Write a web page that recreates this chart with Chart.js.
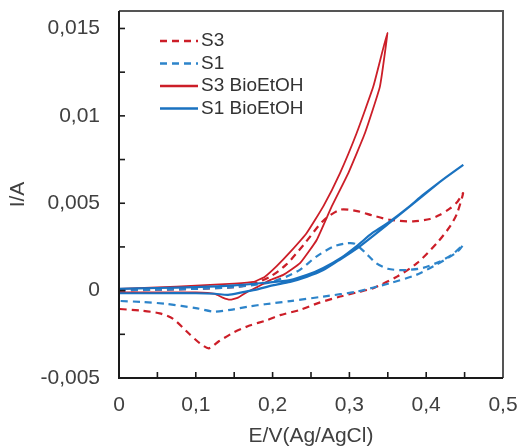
<!DOCTYPE html>
<html>
<head>
<meta charset="utf-8">
<script src="https://cdn.jsdelivr.net/npm/chart.js@4"></script>
<style>
  html, body { margin: 0; padding: 0; background: #fff; }
  #cv { display: block; }
</style>
</head>
<body>
<canvas id="cv" width="520" height="447"></canvas>
<script>
// Each loop is listed in scan order: potential E (V vs Ag/AgCl), current I (A)
const s3E = [0, 0.05, 0.1, 0.15, 0.175, 0.197, 0.218, 0.24, 0.266, 0.288, 0.31, 0.33, 0.353, 0.383, 0.405, 0.418, 0.431, 0.441, 0.448,
             0.44, 0.431, 0.414, 0.388, 0.362, 0.331, 0.31, 0.288, 0.26, 0.236, 0.21, 0.192, 0.17, 0.149, 0.13, 0.117, 0.105, 0.092, 0.07, 0.053, 0.03, 0];
const s3I = [0, 0.00005, 0.0001, 0.0002, 0.0004, 0.0008, 0.0015, 0.0026, 0.0040, 0.00463, 0.00455, 0.0043, 0.00405, 0.00396, 0.0041, 0.00434, 0.0047, 0.0051, 0.00558,
             0.0044, 0.00367, 0.00272, 0.00157, 0.0008, 0.00014, -0.0001, -0.00034, -0.0007, -0.0011, -0.0014, -0.0017, -0.002, -0.0024, -0.0029, -0.0033, -0.003, -0.0025, -0.0016, -0.0013, -0.00115, -0.00105];

const s1E = [0, 0.05, 0.1, 0.15, 0.192, 0.218, 0.236, 0.257, 0.279, 0.295, 0.307, 0.32, 0.335, 0.35, 0.366, 0.38, 0.396, 0.418, 0.435, 0.448,
             0.44, 0.413, 0.387, 0.353, 0.31, 0.266, 0.223, 0.19, 0.17, 0.145, 0.123, 0.1, 0.062, 0.03, 0];
const s1I = [0.00003, 0.00005, 0.0001, 0.0002, 0.00043, 0.0008, 0.0012, 0.00195, 0.00252, 0.0027, 0.00268, 0.0022, 0.00157, 0.00125, 0.00117, 0.0012, 0.0013, 0.00167, 0.0021, 0.00262,
             0.0022, 0.00148, 0.0009, 0.00043, -0.00005, -0.00034, -0.0006, -0.00078, -0.0009, -0.0011, -0.0012, -0.001, -0.00076, -0.00065, -0.00059];

const s3bE = [0, 0.05, 0.1, 0.15, 0.175, 0.19, 0.2053, 0.2227, 0.2444, 0.266, 0.2878, 0.3095, 0.3312, 0.3494,
              0.3398, 0.3203, 0.2986, 0.277, 0.2574, 0.2357, 0.2139, 0.1966, 0.18, 0.168, 0.155, 0.1445, 0.135, 0.125, 0.1, 0.05, 0];
const s3bI = [0.0001, 0.00018, 0.00028, 0.0004, 0.0005, 0.0008, 0.0014, 0.0022, 0.0033, 0.00482, 0.00673, 0.00902, 0.01169, 0.01475,
              0.01169, 0.00902, 0.00673, 0.00482, 0.0029, 0.00157, 0.0009, 0.0006, 0.0002, -0.00005, -0.0004, -0.00052, -0.0004, -0.00018, -0.0001, -0.0001, -0.0001];

const s1bE = [0, 0.05, 0.1, 0.15, 0.19, 0.2227, 0.245, 0.266, 0.29, 0.3095, 0.33, 0.3529, 0.375, 0.3963, 0.42, 0.4483,
              0.42, 0.3963, 0.3529, 0.3095, 0.285, 0.266, 0.245, 0.2227, 0.2, 0.177, 0.16, 0.142, 0.125, 0.1, 0.05, 0];
const s1bI = [0.0001, 0.00015, 0.0002, 0.0003, 0.00045, 0.0006, 0.0009, 0.0013, 0.0019, 0.00255, 0.0033, 0.00396, 0.0047, 0.00549, 0.0063, 0.0072,
              0.0063, 0.00545, 0.0039, 0.0024, 0.0017, 0.00118, 0.0008, 0.0005, 0.0003, 0.00004, -0.0001, -0.00024, -0.00018, -0.00015, -0.00015, -0.00015];

const xTickValues = [0, 0.1, 0.2, 0.3, 0.4, 0.5];
const xTickLabels = ['0', '0,1', '0,2', '0,3', '0,4', '0,5'];
const yTickValues = [-0.005, 0, 0.005, 0.01, 0.015];
const yTickLabels = ['-0,005', '0', '0,005', '0,01', '0,015'];

const RED = 'rgb(204, 30, 40)';
const BLUE = 'rgb(26, 114, 192)';
const BLUE_DASH = 'rgb(45, 132, 202)';
const FONT = 'Liberation Sans, Arial, sans-serif';

const toPoints = (E, I) => E.map((e, k) => ({ x: e, y: I[k] }));

function labelFor(values, labels) {
    return function (value) {
        const k = values.findIndex(v => Math.abs(v - value) < 1e-9);
        return k >= 0 ? labels[k] : '';
    };
}

function onStep(v, step) {
    const r = v / step;
    return Math.abs(r - Math.round(r)) < 1e-6;
}

// fixed axis sizes, no extra room asked for the edge labels
function fixSize(w, h) {
    return s => {
        if (w) s.width = w;
        if (h) s.height = h;
        s.paddingTop = s.paddingBottom = s.paddingLeft = s.paddingRight = 0;
    };
}

/// Box frame, inward tick marks and the legend inside the plot
const framePlugin = {
    id: 'frame',
    afterDraw(chart) {
        const { ctx, chartArea: a, scales: { x, y } } = chart;
        ctx.save();
        ctx.lineWidth = 2;
        ctx.strokeStyle = '#555';
        ctx.beginPath();
        ctx.moveTo(a.left, a.top);
        ctx.lineTo(a.right, a.top);
        ctx.lineTo(a.right, a.bottom);
        ctx.stroke();
        ctx.strokeStyle = '#1a1a1a';
        ctx.beginPath();
        ctx.moveTo(a.left, a.top);
        ctx.lineTo(a.left, a.bottom);
        ctx.lineTo(a.right, a.bottom);
        ctx.stroke();

        ctx.lineWidth = 1.6;
        x.ticks.forEach(t => {
            if (!onStep(t.value, 0.05) || t.value <= 0 || t.value >= 0.5) return;
            const px = x.getPixelForValue(t.value);
            ctx.beginPath();
            ctx.moveTo(px, a.bottom);
            ctx.lineTo(px, a.bottom - 6);
            ctx.stroke();
        });
        y.ticks.forEach(t => {
            if (!onStep(t.value, 0.0025) || t.value <= -0.005) return;
            const py = y.getPixelForValue(t.value);
            ctx.beginPath();
            ctx.moveTo(a.left, py);
            ctx.lineTo(a.left + 6, py);
            ctx.stroke();
        });

        // legend
        ctx.font = '19px ' + FONT;
        ctx.textBaseline = 'middle';
        ctx.textAlign = 'left';
        chart.data.datasets.forEach((ds, k) => {
            const ly = 41 + k * 22.5;
            ctx.strokeStyle = ds.borderColor;
            ctx.lineWidth = 2.4;
            ctx.setLineDash(ds.borderDash || []);
            ctx.beginPath();
            ctx.moveTo(160, ly);
            ctx.lineTo(198, ly);
            ctx.stroke();
            ctx.setLineDash([]);
            ctx.fillStyle = '#333';
            ctx.fillText(ds.label, 201, ly);
        });
        ctx.restore();
    }
};

const cvChart = new Chart('cv', {
    type: 'scatter',
    data: {
        datasets: [
            {
                label: 'S3',
                data: toPoints(s3E, s3I),
                borderColor: RED,
                borderDash: [7, 5],
                borderWidth: 2.2,
                showLine: true,
                order: 4
            },
            {
                label: 'S1',
                data: toPoints(s1E, s1I),
                borderColor: BLUE_DASH,
                borderDash: [7, 5],
                borderWidth: 2.2,
                showLine: true,
                order: 3
            },
            {
                label: 'S3 BioEtOH',
                data: toPoints(s3bE, s3bI),
                borderColor: RED,
                borderWidth: 1.8,
                showLine: true,
                tension: 0.12,
                order: 2
            },
            {
                label: 'S1 BioEtOH',
                data: toPoints(s1bE, s1bI),
                borderColor: BLUE,
                borderWidth: 2.2,
                showLine: true,
                order: 1
            }
        ]
    },
    options: {
        responsive: false,
        animation: false,
        elements: {
            point: { radius: 0, hoverRadius: 0 },
            line: { tension: 0.25, fill: false }
        },
        layout: { padding: { top: 11, right: 17, left: 0, bottom: 0 } },
        plugins: {
            legend: { display: false },
            tooltip: { enabled: false }
        },
        scales: {
            x: {
                type: 'linear',
                min: 0,
                max: 0.5,
                afterFit: fixSize(0, 69),
                grid: { display: false, drawTicks: false },
                border: { display: false },
                ticks: {
                    stepSize: 0.05,
                    autoSkip: false,
                    maxRotation: 0,
                    padding: 15,
                    color: '#404040',
                    font: { family: FONT, size: 21 },
                    callback: labelFor(xTickValues, xTickLabels)
                },
                title: {
                    display: true,
                    text: 'E/V(Ag/AgCl)',
                    color: '#404040',
                    font: { family: FONT, size: 21, lineHeight: 1 },
                    padding: 0
                }
            },
            y: {
                type: 'linear',
                min: -0.005,
                max: 0.016,
                afterFit: fixSize(119, 0),
                grid: { display: false, drawTicks: false },
                border: { display: false },
                ticks: {
                    stepSize: 0.0025,
                    includeBounds: false,
                    autoSkip: false,
                    padding: 19,
                    color: '#404040',
                    font: { family: FONT, size: 21 },
                    callback: labelFor(yTickValues, yTickLabels)
                },
                title: {
                    display: true,
                    text: 'I/A',
                    color: '#404040',
                    font: { family: FONT, size: 21, lineHeight: 1 },
                    padding: { top: 7.5, bottom: 0 }
                }
            }
        }
    },
    plugins: [framePlugin]
});
</script>
</body>
</html>
